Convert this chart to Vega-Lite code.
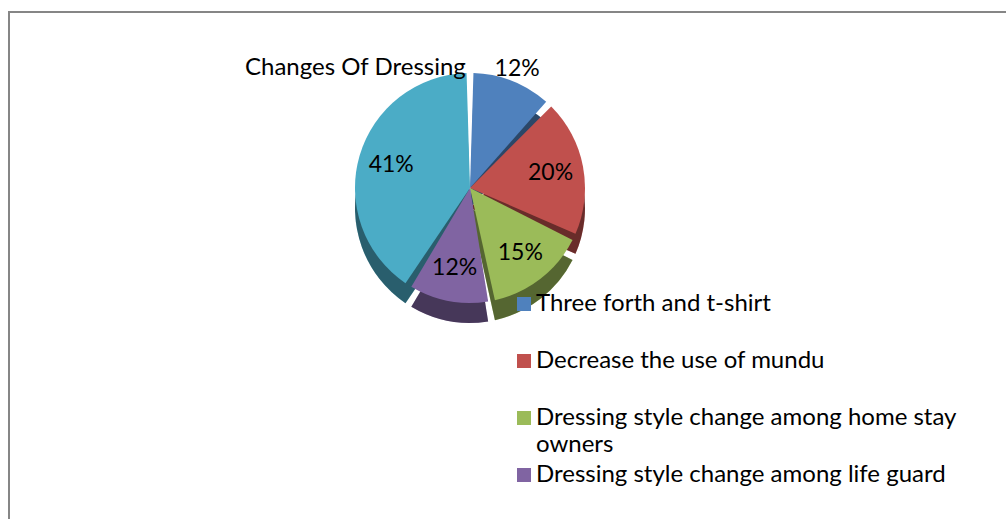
{
  "$schema": "https://vega.github.io/schema/vega-lite/v6.json",
  "width": 1000,
  "height": 510,
  "autosize": "none",
  "padding": {"left": 9, "top": 12, "right": -3, "bottom": -3},
  "background": "white",
  "view": {"stroke": "#868686", "strokeWidth": 2},
  "config": {"view": {"stroke": "#868686", "strokeWidth": 2}, "font": "Lato"},
  "title": {
    "text": "Changes Of Dressing",
    "anchor": "start",
    "frame": "group",
    "dx": 236,
    "offset": -68,
    "baseline": "top",
    "fontSize": 24,
    "fontWeight": "normal",
    "font": "Lato",
    "color": "black"
  },
  "data": {
    "values": [
      {"category": "Three forth and t-shirt", "pct": 12, "label": "12%", "order": 1},
      {"category": "Decrease the use of mundu", "pct": 20, "label": "20%", "order": 2},
      {"category": "Dressing style change among home stay owners", "pct": 15, "label": "15%", "order": 3},
      {"category": "Dressing style change among life guard", "pct": 12, "label": "12%", "order": 4},
      {"category": "Dressing style change among tourists", "pct": 41, "label": "41%", "order": 5}
    ]
  },
  "encoding": {
    "theta": {"field": "pct", "type": "quantitative", "stack": true},
    "order": {"field": "order", "type": "quantitative"},
    "color": {
      "field": "category",
      "type": "nominal",
      "sort": null,
      "scale": {
        "domain": ["Three forth and t-shirt", "Decrease the use of mundu", "Dressing style change among home stay owners", "Dressing style change among life guard", "Dressing style change among tourists"],
        "range": ["#4F81BD", "#C0504D", "#9BBB59", "#8064A2", "#4BACC6"]
      },
      "legend": {
        "orient": "none",
        "legendX": 503,
        "legendY": 280,
        "title": null,
        "values": ["Three forth and t-shirt", "Decrease the use of mundu", "Dressing style change among home stay owners", "Dressing style change among life guard"],
        "symbolType": "square",
        "symbolSize": 196,
        "symbolStrokeWidth": 0,
        "labelFont": "Lato",
        "labelFontSize": 24,
        "labelColor": "black",
        "labelOffset": 0,
        "rowPadding": 6,
        "labelLimit": 700,
        "labelExpr": "datum.label == 'Dressing style change among home stay owners' ? ['Dressing style change among home stay', 'owners'] : [datum.label, ' ']",
        "encode": {"labels": {"update": {"lineHeight": {"value": 27}}}}
      }
    }
  },
  "layer": [
    {
      "mark": {"type": "arc", "radius": 115, "padAngle": 0.06, "x": {"expr": "width*0.461"}, "y": {"expr": "height*0.345 + 20"}}
    },
    {
      "mark": {"type": "arc", "radius": 115, "padAngle": 0.06, "opacity": 0.45, "x": {"expr": "width*0.461"}, "y": {"expr": "height*0.345 + 20"}},
      "encoding": {"color": {"value": "black"}}
    },
    {
      "mark": {"type": "arc", "radius": 115, "padAngle": 0.06, "x": {"expr": "width*0.461"}, "y": {"expr": "height*0.345"}}
    },
    {
      "mark": {"type": "text", "fontSize": 23, "font": "Lato", "color": "black", "radius": {"expr": "datum.order == 1 ? 128 : 82"}, "x": {"expr": "width*0.461"}, "y": {"expr": "height*0.345"}},
      "encoding": {
        "text": {"field": "label", "type": "nominal"},
        "color": {"value": "black"}
      }
    }
  ]
}
